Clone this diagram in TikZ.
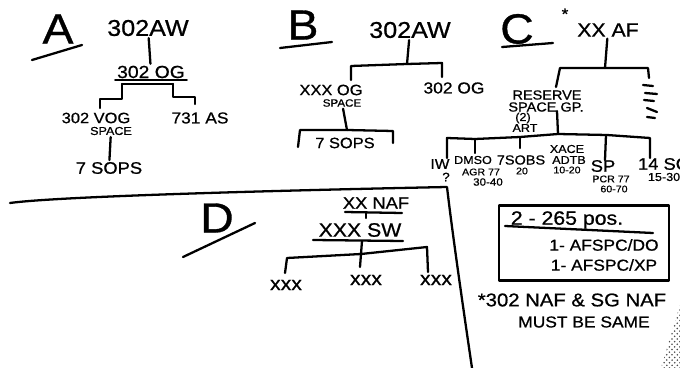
\documentclass[tikz,border=0pt]{standalone}
\usepackage{fontspec}
\setsansfont[FakeStretch=1.1,FakeBold=0.8]{Liberation Sans}
\usetikzlibrary{patterns}

\begin{document}
\begin{tikzpicture}[x=0.02cm,y=-0.02cm,line width=1.3pt,line cap=round,line join=round,
  every node/.style={inner sep=0.5pt},
  hw/.style={font=\sffamily\fontsize{#1}{#1}\selectfont},
  letter/.style={hw=24}]
\useasboundingbox (0,0) rectangle (680,368);

% --- A: 302 AW ---
\node[letter] (la) at (58,29) {A};
\draw (32,60) -- (82,45);
\node[hw=13] (aaw) at (148,28) {302AW};
\node[hw=10] (aog) at (151,72) {302 OG};
\draw (aog.south west) -- (aog.south east);
\draw (aaw) -- (aog);
\node[hw=8.5] (avog) at (96,118) {302 VOG};
\node[hw=6.5] (aspace) at (111,131) {SPACE};
\node[hw=9] (aas) at (200,118) {731 AS};
\node[hw=9.5] (asops) at (109,168) {7 SOPS};
\draw (122,84) -- (173,84);
\draw (122,84) -- (122,99) -- (100,99) -- (100,108);
\draw (173,84) -- (173,97) -- (195,97) -- (195,104);
\draw (aspace) -- (asops);

% separator lines
\coordinate (sepL) at (10,203);
\coordinate (sepC) at (447,187);
\coordinate (sepB) at (472,368);
\draw (sepL) .. controls (60,196) and (300,190) .. (sepC)
  .. controls (452,230) and (462,300) .. (sepB);

% --- B: 302 AW ---
\node[letter] (lb) at (303,25) {B};
\draw (280,48) -- (332,42);
\node[hw=13] (baw) at (410,30) {302AW};
\coordinate (btop) at (407,64);
\draw (baw) -- (btop);
\draw (351,80) -- (351,66) -- (btop) -- (442,63) -- (442,77);
\node[hw=8.5] (bxog) at (331,90) {XXX OG};
\node[hw=6] (bspace) at (342,103) {SPACE};
\node[hw=9] (bog) at (454,88) {302 OG};
\coordinate (bmid) at (347,130);
\draw (bspace) -- (bmid);
\draw (298,147) -- (300,130) -- (bmid) -- (393,131) -- (393,143);
\node[hw=8.5] (bsops) at (345,143) {7 SOPS};

% --- C: XX AF ---
\node[letter] (lc) at (517,29) {C};
\draw (502,47) -- (553,43);
\node[hw=9] (cstar) at (565,14) {*};
\node[hw=11] (caf) at (608,30) {XX AF};
\coordinate (ctop) at (605,68);
\draw (caf) -- (ctop);
\draw (556,87) -- (560,68) -- (ctop) -- (648,68) -- (649,78);
\draw (643,85) -- (653,86);
\draw (645,93) -- (657,94);
\draw (644,100) -- (654,101);
\draw (647,108) -- (657,112);
\draw (647,117) -- (655,118);
\node[hw=7.5] (cres) at (547,95) {RESERVE};
\node[hw=7.5] (cspace) at (546,107) {SPACE GP.};
\node[hw=6.5] (ctwo) at (523,118) {(2)};
\node[hw=6.5] (cart) at (525,128) {ART};
\coordinate (cmid) at (558,134);
\draw (557,111) -- (cmid);
\draw (447,158) -- (447,138) -- (475,139) -- (520,137) -- (cmid) -- (607,135) -- (650,138) -- (650,158);
\draw (475,139) -- (475,153);
\draw (520,137) -- (520,148);
\draw (606,135) -- (605,160);
% C children
\node[hw=8] (ciw) at (440,164) {IW};
\node[hw=7] (ciwq) at (446,177) {?};
\node[hw=6.5] (cdms) at (473,160) {DMSO};
\node[hw=5.5] (cdms2) at (481,172) {AGR 77};
\node[hw=6] (cdms3) at (488,182) {30-40};
\node[hw=7.5] (csops) at (521,160) {7SOBS};
\node[hw=5.5] (csops2) at (522,171) {20};
\node[hw=6.5] (cace) at (567,149) {XACE};
\node[hw=6.5] (cace2) at (569,160) {ADTB};
\node[hw=5.5] (cace3) at (567,170) {10-20};
\node[hw=9.5] (csp) at (603,166) {SP};
\node[hw=5.5] (csp2) at (611,179) {PCR 77};
\node[hw=5.5] (csp3) at (614,189) {60-70};
\node[hw=9.5,anchor=west] (csoc) at (636,164) {14 SOC};
\node[hw=6.5,anchor=west] (csoc2) at (646,177) {15-30};

% --- position box ---
\node[draw,minimum width=170*0.02cm,minimum height=75*0.02cm] (box) at (584,243) {};
\node[hw=11] (bpos) at (567,220) {2 - 265 pos.};
\draw (505,226) -- (653,233);
\node[hw=9] (bdo) at (604,245) {1- AFSPC/DO};
\node[hw=9] (bxp) at (604,265) {1- AFSPC/XP};
\node[hw=10.5] (note1) at (572,300) {*302 NAF \& SG NAF};
\node[hw=9] (note2) at (584,322) {MUST BE SAME};
\fill[pattern=crosshatch dots,pattern color=black!70] (661,368) -- (680,305) -- (680,368) -- cycle;

% --- D: XX NAF ---
\node[letter] (ld) at (217,218) {D};
\draw (183,257) -- (255,223);
\node[hw=9.5] (dnaf) at (376,203) {XX NAF};
\draw (345,212) -- (402,213);
\draw (366,213) -- (366,218);
\node[hw=11] (dsw) at (360,230) {XXX SW};
\draw (313,240) -- (403,241);
\coordinate (dmid) at (361,254);
\draw (362,241) -- (dmid);
\draw (285,273) -- (287,258) -- (dmid) -- (427,247) -- (428,272);
\draw (dmid) -- (360,267);
\node[hw=11] (dx1) at (286,285) {xxx};
\node[hw=11] (dx2) at (366,280) {xxx};
\node[hw=11] (dx3) at (436,280) {xxx};
\end{tikzpicture}
\end{document}
